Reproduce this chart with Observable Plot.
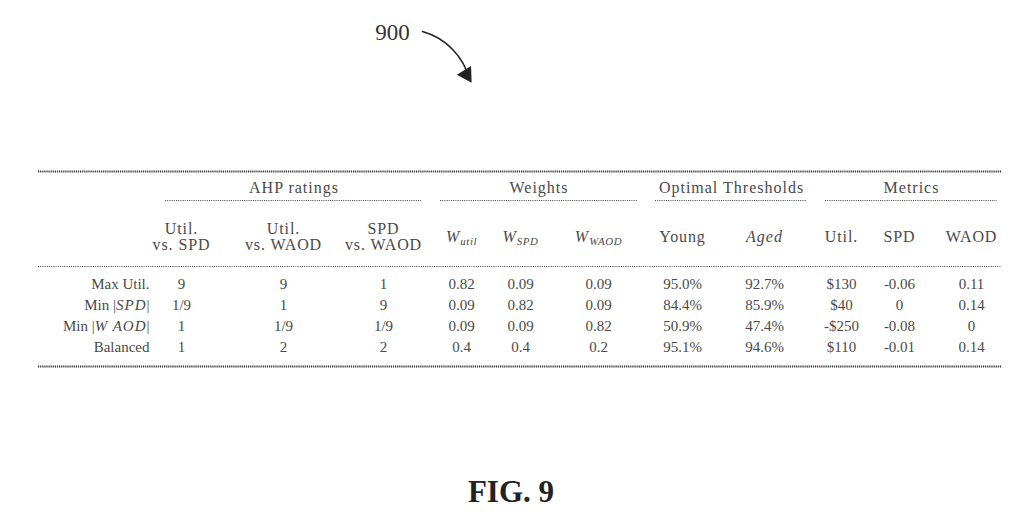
<!DOCTYPE html>
<html><head><meta charset="utf-8">
<script src="https://cdn.jsdelivr.net/npm/d3@7"></script>
<script src="https://cdn.jsdelivr.net/npm/@observablehq/plot@0.6"></script>
<style>html,body{margin:0;padding:0;background:#fff;overflow:hidden}</style>
</head><body><div id="chart"></div>
<script>
// ---------------- data ----------------
const rowLabels = ["Max Util.", "Min |*SPD*|", "Min |*W AOD*|", "Balanced"];
const groupLabels = ["AHP ratings", "Weights", "Optimal Thresholds", "Metrics"];
const columnLabels = ["Util.\nvs. SPD", "Util.\nvs. WAOD", "SPD\nvs. WAOD",
  "*W*_{util}", "*W*_{SPD}", "*W*_{WAOD}", "Young", "*Aged*", "Util.", "SPD", "WAOD"];
const columnGroup = [0, 0, 0, 1, 1, 1, 2, 2, 3, 3, 3];
const ahpUtilVsSpd = ["9", "1/9", "1", "1"];
const ahpUtilVsWaod = ["9", "1", "1/9", "2"];
const ahpSpdVsWaod = ["1", "9", "1/9", "2"];
const weightUtil = ["0.82", "0.09", "0.09", "0.4"];
const weightSpd = ["0.09", "0.82", "0.09", "0.4"];
const weightWaod = ["0.09", "0.09", "0.82", "0.2"];
const thresholdYoung = [95.0, 84.4, 50.9, 95.1];
const thresholdAged = [92.7, 85.9, 47.4, 94.6];
const metricUtil = [130, 40, -250, 110];
const metricSpd = ["-0.06", "0", "-0.08", "-0.01"];
const metricWaod = ["0.11", "0.14", "0", "0.14"];
const figureRef = "900";
const figureTitle = "FIG. 9";

// ---------------- layout (styling only) ----------------
const L = {
  W: 1017, H: 516,
  tableLeft: 38, tableRight: 1001,
  labelRight: 149,
  colX: [181, 283, 383, 461, 520, 598, 682, 764, 841, 899, 971],
  groupSpan: [[165, 422], [440, 637], [655, 807], [825, 997]],
  yTopRule: 171, yGroup: 187, yGroupRule: 200, yHeader: 236,
  yMidRule: 266, yRows: [284, 304.5, 325.5, 347], yBottomRule: 366,
  refX: 392, refY: 32, arrow: [422, 31, 469, 79], figY: 492
};
const fmtPct = v => v.toFixed(1) + "%";
const fmtMoney = v => (v < 0 ? "-$" : "$") + Math.abs(v);

const columns = [ahpUtilVsSpd, ahpUtilVsWaod, ahpSpdVsWaod, weightUtil, weightSpd, weightWaod,
  thresholdYoung.map(fmtPct), thresholdAged.map(fmtPct), metricUtil.map(fmtMoney), metricSpd, metricWaod];

const cells = [];
columns.forEach((col, j) => col.forEach((t, i) => cells.push({x: L.colX[j], y: L.yRows[i], text: t})));
const rowLabelData = rowLabels.map((t, i) => ({x: L.labelRight, y: L.yRows[i], text: t}));
const headerData = columnLabels.map((t, j) => ({x: L.colX[j], y: L.yHeader, text: t}));
const groupData = groupLabels.map((t, g) => ({x: (L.groupSpan[g][0] + L.groupSpan[g][1]) / 2, y: L.yGroup, text: t}));
const groupRules = groupLabels.map((t, g) => ({x1: L.groupSpan[g][0], x2: L.groupSpan[g][1], y: L.yGroupRule}));

const font = "Liberation Serif";
const txt = "#4a4a4a";

const chart = Plot.plot({
  width: L.W, height: L.H, margin: 0,
  x: {domain: [0, L.W], range: [0, L.W], axis: null},
  y: {domain: [0, L.H], range: [0, L.H], axis: null},
  style: {fontFamily: font, background: "#fff"},
  marks: [
    // horizontal rules
    Plot.ruleY([L.yTopRule, L.yBottomRule], {x1: L.tableLeft, x2: L.tableRight, stroke: "#333", strokeWidth: 1.8, strokeDasharray: "1.2,0.9"}),
    Plot.ruleY([L.yMidRule], {x1: L.tableLeft, x2: L.tableRight, stroke: "#444", strokeWidth: 1, strokeDasharray: "1,1.2"}),
    Plot.ruleY(groupRules, {y: "y", x1: "x1", x2: "x2", stroke: "#444", strokeWidth: 1, strokeDasharray: "1,1.2"}),
    // text
    Plot.text(groupData, {x: "x", y: "y", text: "text", fontSize: 16, fill: txt}),
    Plot.text(headerData, {x: "x", y: "y", text: "text", fontSize: 16, fill: txt, lineHeight: 1.0}),
    Plot.text(rowLabelData, {x: "x", y: "y", text: "text", fontSize: 15, fill: txt, textAnchor: "end"}),
    Plot.text(cells, {x: "x", y: "y", text: "text", fontSize: 15, fill: txt}),
    // figure reference and arrow
    Plot.text([figureRef], {x: L.refX, y: L.refY, text: d => d, fontSize: 23, fill: "#333"}),
    Plot.arrow([L.arrow], {x1: d => d[0], y1: d => d[1], x2: d => d[2], y2: d => d[3], bend: 30, stroke: "#222", strokeWidth: 1.6, headLength: 0}),
    Plot.dot([L.arrow], {x: d => d[2] - 3, y: d => d[3] - 5, symbol: "triangle2", r: 8, fill: "#222", rotate: 148}),
    Plot.text([figureTitle], {x: L.W / 2 + 2, y: L.figY, text: d => d, fontSize: 31, fontWeight: "bold", fill: "#222"})
  ]
});

// header letter spacing (first two text marks: group labels and column headers)
const textGroups = chart.querySelectorAll('g[aria-label="text"]');
textGroups[0].setAttribute("letter-spacing", "1");
textGroups[1].setAttribute("letter-spacing", "0.9");

// rich text: *italic* and _{subscript}
d3.select(chart).selectAll("text").each(function () {
  const el = this;
  if (el.children.length) {
    d3.select(el).selectAll("tspan").each(function () { rich(this); });
  } else rich(el);
});
function rich(el) {
  const s = el.textContent;
  if (!/[*_]/.test(s)) return;
  el.textContent = "";
  const re = /\*([^*]+)\*|_\{([^}]+)\}|([^*_]+)/g;
  let m;
  while ((m = re.exec(s))) {
    const t = document.createElementNS("http://www.w3.org/2000/svg", "tspan");
    if (m[1]) { t.textContent = m[1]; t.setAttribute("font-style", "italic"); t.setAttribute("letter-spacing", "1"); }
    else if (m[2]) { t.textContent = m[2]; t.setAttribute("font-style", "italic"); t.setAttribute("font-size", "0.68em"); t.setAttribute("dy", "0.35em"); t.setAttribute("letter-spacing", "0.6"); }
    else t.textContent = m[3];
    el.appendChild(t);
  }
}
document.getElementById("chart").appendChild(chart);
</script>
</body></html>
